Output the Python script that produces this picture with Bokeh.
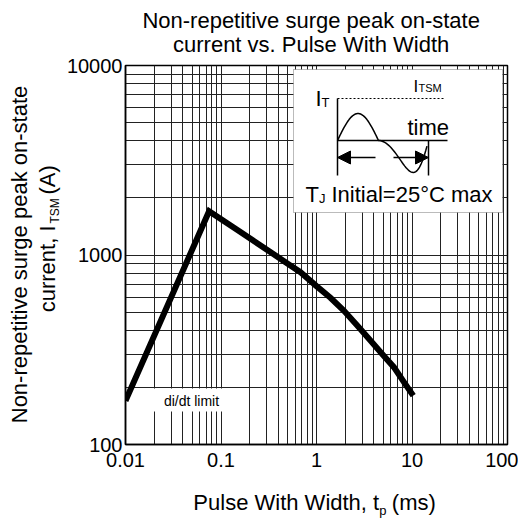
import numpy as np
from bokeh.plotting import figure
from bokeh.layouts import row, column
from bokeh.models import Range1d, LinearScale, FixedTicker, Label, Arrow, NormalHead
from bokeh.embed import file_html
from bokeh.resources import INLINE

# ---------------- data ----------------
pulse_ms = [0.01, 0.075, 0.15, 0.3, 0.5, 0.68, 1.0, 1.4, 1.93, 2.7, 3.67, 5.0, 6.46, 8.2, 10.3]
itsm_a = [170, 1700, 1350, 1070, 900, 811, 685, 595, 509, 422, 354, 296, 256, 214, 181]

x_ticks = [0.01, 0.1, 1, 10, 100]
x_tick_labels = ["0.01", "0.1", "1", "10", "100"]
y_ticks = [100, 1000, 10000]
y_tick_labels = ["100", "1000", "10000"]

x_grid = [d * m for d in [0.01, 0.1, 1, 10] for m in range(1, 10)] + [100]
y_grid = [d * m for d in [100, 1000] for m in range(1, 10)] + [10000]

title_lines = ["Non-repetitive surge peak on-state", "current vs. Pulse With Width"]
ylabel_line1 = "Non-repetitive surge peak on-state"
note_text = "di/dt limit"

FONT = "Liberation Sans"
FW, FH = 382, 379  # main frame size in px

# ---------------- layout sizes ----------------
LW = 62
TH = 56
MB_LEFT, MB_RIGHT, MB_TOP, MB_BOT = 63, 11, 9, 36
MW = MB_LEFT + FW + MB_RIGHT
MH = MB_TOP + FH + MB_BOT
BH = 39
TOTAL_H = TH + MH + BH


def text_fig(w, h, left=0):
    f = figure(width=w, height=h, x_range=Range1d(0, w - left), y_range=Range1d(h, 0),
               x_axis_location=None, y_axis_location=None, title=None,
               output_backend="svg", toolbar_location=None,
               min_border=0, min_border_left=left, min_border_right=0,
               min_border_top=0, min_border_bottom=0)
    f.outline_line_color = None
    f.xgrid.visible = False
    f.ygrid.visible = False
    f.background_fill_color = "white"
    f.border_fill_color = "white"
    return f


def add_text(f, x, y, text, size, align="left", baseline="middle", angle=0, **kw):
    f.add_layout(Label(x=x, y=y, text=text, text_font=FONT, text_font_size=f"{size}px",
                       text_align=align, text_baseline=baseline, angle=angle,
                       angle_units="deg", text_color="black", **kw))


# ---------------- main chart ----------------
p = figure(width=MW, height=MH, x_axis_type="log", y_axis_type="log",
           x_range=(0.01, 100), y_range=(100, 10000), title=None,
           output_backend="svg", toolbar_location=None,
           min_border_left=MB_LEFT, min_border_right=MB_RIGHT, min_border_top=MB_TOP,
           min_border_bottom=MB_BOT)
p.background_fill_color = "white"
p.border_fill_color = "white"
p.outline_line_color = "black"
p.outline_line_width = 1.5

p.extra_x_ranges = {"px": Range1d(0, FW)}
p.extra_y_ranges = {"py": Range1d(FH, 0)}
p.extra_x_scales = {"px": LinearScale()}
p.extra_y_scales = {"py": LinearScale()}
PX = dict(x_range_name="px", y_range_name="py")

for ax, ticks, labels in [(p.xaxis[0], x_ticks, x_tick_labels), (p.yaxis[0], y_ticks, y_tick_labels)]:
    ax.ticker = FixedTicker(ticks=ticks, minor_ticks=[])
    ax.major_label_overrides = {t: l for t, l in zip(ticks, labels)}
    ax.major_tick_line_color = None
    ax.minor_tick_line_color = None
    ax.major_tick_out = 0
    ax.major_tick_in = 0
    ax.minor_tick_out = 0
    ax.minor_tick_in = 0
    ax.axis_line_color = "black"
    ax.axis_line_width = 1.5
    ax.major_label_text_font = FONT
    ax.major_label_text_font_size = "20px"
    ax.major_label_text_color = "black"
    ax.axis_label = None
p.xaxis.major_label_standoff = 8
p.yaxis.major_label_standoff = 3

p.xgrid.ticker = FixedTicker(ticks=x_grid)
p.ygrid.ticker = FixedTicker(ticks=y_grid)
for g in (p.xgrid, p.ygrid):
    g.grid_line_color = "#222222"
    g.grid_line_width = 1
    g.grid_line_alpha = 1.0

# di/dt limit box
p.quad(left=[20], right=[113], top=[323], bottom=[346], fill_color="white",
       line_color=None, **PX)
add_text(p, 66, 335, note_text, 14, align="center", **PX)

# inset box
p.quad(left=[168], right=[377], top=[4], bottom=[147], fill_color="white",
       line_color="#777777", line_width=1, line_dash="1 1", **PX)

# schematic inside inset
p.line([212, 320], [33, 33], line_color="black", line_width=1.2, line_dash="2 2", **PX)
p.line([212, 212], [33, 110], line_color="black", line_width=1.5, **PX)
p.line([212, 322], [75, 75], line_color="black", line_width=1.5, **PX)
p.line([303, 303], [75, 110], line_color="black", line_width=1.5, **PX)
t1 = np.linspace(0, 1, 40)
t2 = np.linspace(0, 0.97, 40)
wave_x = np.concatenate([212 + 41 * t1, 253 + 50 * t2])
wave_y = np.concatenate([75 - 27 * np.sin(np.pi * t1), 75 + 32 * np.sin(np.pi * t2 ** 1.9)])
p.line(wave_x, wave_y, line_color="black", line_width=1.5, **PX)
p.add_layout(Arrow(end=NormalHead(size=13, fill_color="black", line_color="black"),
                   x_start=250, y_start=92, x_end=212, y_end=92,
                   line_color="black", line_width=1.5, **PX))
p.add_layout(Arrow(end=NormalHead(size=13, fill_color="black", line_color="black"),
                   x_start=268, y_start=92, x_end=303, y_end=92,
                   line_color="black", line_width=1.5, **PX))

add_text(p, 190, 33, "I", 22, **PX)
add_text(p, 196, 37, "T", 13, **PX)
add_text(p, 288, 21.2, "I", 17, **PX)
add_text(p, 293, 22.8, "TSM", 11, **PX)
add_text(p, 282, 62.4, "time", 22, **PX)
add_text(p, 180, 129.1, "T", 22, **PX)
add_text(p, 193.5, 133, "J", 13, **PX)
add_text(p, 206, 129.1, "Initial=25\u00b0C max", 22, **PX)

# data curve
p.line(pulse_ms, itsm_a, line_color="black", line_width=6, line_join="miter")

# ---------------- title strip (x relative to main frame left) ----------------
t = text_fig(MW, TH, left=MB_LEFT)
add_text(t, 191, 19.8, title_lines[0], 22, align="center")
add_text(t, 191, 43.8, title_lines[1], 22, align="center")

# ---------------- left strip: y label (page coords) ----------------
l = text_fig(LW, TOTAL_H)
add_text(l, 19.4, 254, ylabel_line1, 22, align="center", angle=90)
add_text(l, 47.4, 225, "current, I", 22, align="right", angle=90)
add_text(l, 54.8, 223, "TSM", 12, align="left", angle=90)
add_text(l, 47.4, 194, "(A)", 22, align="left", angle=90)

# ---------------- bottom strip: x label (x relative to main frame left) ----------------
b = text_fig(MW, BH, left=MB_LEFT)
add_text(b, 261, 22.4, "Pulse With Width, t", 22, align="right")
add_text(b, 261, 29.5, "p", 13, align="left")
add_text(b, 274, 22.4, "(ms)", 22, align="left")

layout = row(l, column(t, p, b))
open("out.html", "w").write(file_html(layout, INLINE))
